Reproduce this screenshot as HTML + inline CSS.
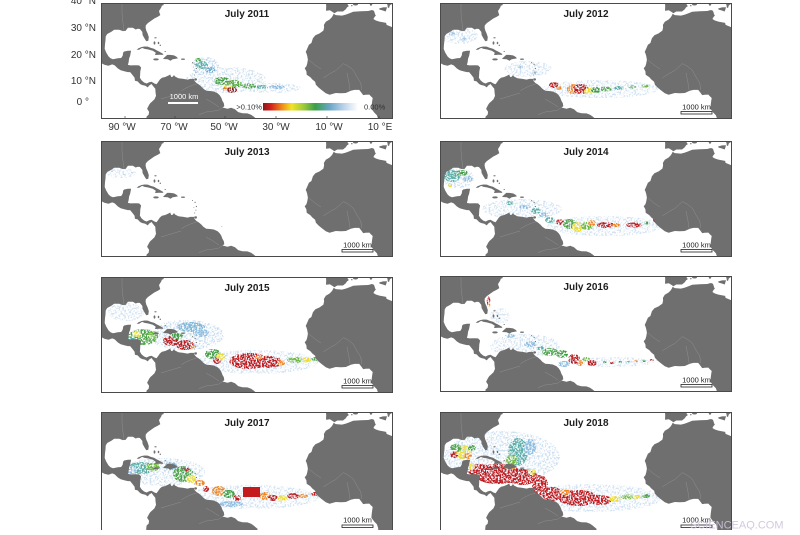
<!DOCTYPE html>
<html>
<head>
<meta charset="utf-8">
<style>
html,body{margin:0;padding:0;background:#fff;}
body{width:800px;height:530px;overflow:hidden;}
svg text{font-family:"Liberation Sans",Arial,sans-serif;}
</style>
</head>
<body>
<svg xmlns="http://www.w3.org/2000/svg" width="800" height="530" viewBox="0 0 800 530">
<defs>
<filter id="sp" x="-10%" y="-10%" width="120%" height="120%" color-interpolation-filters="sRGB">
<feTurbulence type="fractalNoise" baseFrequency="0.6" numOctaves="2" seed="4" result="n"/>
<feColorMatrix in="n" type="matrix" values="0 0 0 0 0  0 0 0 0 0  0 0 0 0 0  8 0 0 0 -3.3" result="m"/>
<feComposite in="SourceGraphic" in2="m" operator="in"/>
</filter>
<filter id="sph" x="-10%" y="-10%" width="120%" height="120%" color-interpolation-filters="sRGB">
<feTurbulence type="fractalNoise" baseFrequency="0.55" numOctaves="2" seed="9" result="n"/>
<feColorMatrix in="n" type="matrix" values="0 0 0 0 0  0 0 0 0 0  0 0 0 0 0  7 0 0 0 -3.4" result="m"/>
<feComposite in="SourceGraphic" in2="m" operator="in"/>
</filter>
<linearGradient id="cb" x1="0" y1="0" x2="1" y2="0">
<stop offset="0" stop-color="#8e1619"/>
<stop offset="0.08" stop-color="#d2201e"/>
<stop offset="0.2" stop-color="#f08a1a"/>
<stop offset="0.3" stop-color="#f2e324"/>
<stop offset="0.43" stop-color="#9cc93a"/>
<stop offset="0.55" stop-color="#3a9e48"/>
<stop offset="0.7" stop-color="#6aa6c8"/>
<stop offset="0.85" stop-color="#bcd3ea"/>
<stop offset="1" stop-color="#ffffff"/>
</linearGradient>
<g id="land">
<g fill="#6f6f6f">
<path d="M-2,-2 L63.5,-2 L63,0 L62.5,2.1 L60.8,2.8 L60.3,4.4 L59,6.5 L58,8 L58.5,9.8 L59.3,12.1 L56.8,13.7 L53.3,15.5 L50.5,17.5 L46.8,20.1 L44.8,22.4 L44.6,24.8 L45.3,27.6 L46.6,30.4 L47.8,34.1 L47.3,37.7 L45.3,38.2 L43.6,35.6 L41.6,32 L41.3,28.9 L38.9,26 L36.9,25.8 L34.6,26.5 L31.9,24.8 L26.9,24.8 L24.6,27.9 L21.9,28.1 L18.2,26.8 L13.2,26.8 L10.2,28.9 L6.2,31 L4.7,33.5 L4.5,37.4 L4,41.3 L3.7,45.9 L5.2,49.5 L7.5,53.4 L9.5,55.2 L12,56.2 L16.9,55.2 L20.2,55 L21.7,52.6 L22.2,49.5 L23.2,48.5 L26.9,47.7 L30.1,47.7 L29.6,50.3 L29.1,52.9 L28.1,55.5 L27.6,59.3 L26.9,61.9 L29.4,62.4 L34.4,62.2 L38.1,62.4 L40.1,64.5 L39.3,68.4 L39.1,72.2 L38.9,74.8 L40.6,77.4 L43.1,79.5 L45.6,80.5 L48.1,79.2 L50.5,78.7 L53.5,80.5 L55.5,81.3 L56.8,79.5 L59,76.4 L61,74.8 L64.2,74 L67.5,72.5 L69.2,71.5 L70.2,74 L71.7,73.8 L73,72 L74,73.5 L77.4,75.3 L82.4,75.9 L86.7,76.6 L89.2,75.9 L92.9,75.9 L93.4,77.7 L95.4,80 L97.9,81.5 L100.4,83.6 L102.3,85.7 L105.3,87.7 L109.1,88 L112.8,88.5 L116.6,90.3 L118.8,92.4 L120.3,94.7 L121.5,98 L122.8,100.1 L123.3,103.2 L121.5,104.5 L126.5,105.8 L130.2,104.7 L134,106.3 L137.2,109.1 L141.4,110.2 L146.4,110.4 L150.1,111.7 L152.6,113.5 L155.1,115.6 L156.4,116.6 L157,122 L45,122 L45.3,116.1 L45.6,113.5 L47.6,111.7 L48.1,108.9 L46.1,105.8 L48.1,101.9 L49.3,100.1 L51,98.6 L53.5,96.2 L55,92.9 L54.5,89 L54.3,85.7 L52.5,83.6 L50.5,81 L48.1,82.6 L46.8,84.4 L44.3,82.8 L41.1,82 L39.1,81 L36.6,78.4 L33.9,77.7 L33.6,74.8 L31.1,71.5 L29.1,69.1 L26.9,69.1 L23.7,68.4 L19.7,67.3 L16.9,65.5 L13.7,62.4 L11.2,61.4 L7.5,62.7 L3.7,61.9 L0.7,60.4 L-1.7,59.3 L-2,59.3 Z"/>
<path d="M35.7,46.8 L37.3,45.4 L40.6,44 L43.6,43.5 L46.8,43.6 L49.8,44.9 L53,45.7 L55.5,47.2 L58.5,48.8 L62.5,51.1 L61.7,51.9 L58.8,51.7 L54,52 L54.8,49.8 L51.8,47.7 L46.8,46.4 L43.6,45.9 L41.1,44.9 L38.1,46.7 Z"/>
<path d="M62.3,55.5 L66.2,51.9 L69.2,51.9 L73,52.4 L75.5,53.7 L77,55.2 L75,55.7 L71.7,56.2 L69.5,57.8 L66.7,56.2 L62.3,56 Z"/>
<ellipse cx="55" cy="56.4" rx="2.7" ry="1"/>
<ellipse cx="82" cy="56.2" rx="2" ry="0.7"/>
<ellipse cx="53.5" cy="40" rx="0.9" ry="1.6"/>
<ellipse cx="57.5" cy="40" rx="0.8" ry="1.2"/>
<ellipse cx="59.3" cy="42.3" rx="0.7" ry="0.7"/>
<ellipse cx="54.5" cy="34.8" rx="1.2" ry="0.6"/>
<ellipse cx="64.2" cy="48.5" rx="0.7" ry="0.5"/>
<ellipse cx="94.6" cy="76.4" rx="1.4" ry="1.2"/>
<circle cx="94.1" cy="61.4" r="0.6"/>
<circle cx="95.4" cy="65.5" r="0.6"/>
<circle cx="94.9" cy="69.1" r="0.5"/>
<circle cx="93.7" cy="72" r="0.5"/>
<circle cx="91.5" cy="59.5" r="0.5"/>
<path d="M232.6,10.8 L234.8,12.1 L241,12.6 L244.8,11.6 L248.5,10.3 L252.2,8.8 L259.7,8.3 L267.2,8 L270.9,7 L272.9,7.7 L273.4,9 L274.2,11.6 L274.9,12.4 L273.4,14.2 L272.4,16 L274.9,17.5 L278.4,18.6 L285.1,19.9 L285.6,21.9 L292.1,24.5 L295,24.5 L295,122 L277.2,122 L277.2,116.1 L275.9,112.2 L273.4,109.7 L270.4,105.8 L270.7,101.9 L271.2,98 L271.7,95 L269.7,93.1 L268.4,91.6 L264.7,91.8 L262.2,92.1 L259.7,88.8 L258.2,86.9 L253.5,86.9 L249.8,87.7 L244.8,90 L239.8,90.3 L234.8,90 L228.6,91.8 L224.8,90.3 L220.4,86.9 L217.4,84.4 L214.9,81.8 L214.1,78.7 L211.2,76.4 L209.4,74.3 L205.7,71.7 L205.4,68.4 L203.7,65.3 L205.4,63.2 L206.2,60.6 L206.9,56.8 L206.2,52.9 L205.4,50.3 L204.7,49 L206.4,45.2 L207.9,41.8 L210.4,40 L211.9,35.3 L214.4,32.3 L218.6,30.4 L222.4,27.6 L223.1,24.5 L222.9,21.9 L224.8,18.8 L228.6,16.5 L230.8,14.2 L232.1,12.1 Z"/>
<path d="M225,-2 L225,0 L225.2,3.4 L225,7.7 L227.3,7.5 L228.8,7.2 L231.6,9 L233.4,10.3 L236.3,8.5 L242,8.5 L244.8,6.2 L246,4.4 L247.8,3.1 L246.5,1.3 L247.3,0 L247.5,-2 Z"/>
<ellipse cx="254.5" cy="1.3" rx="2.5" ry="1.2"/>
<ellipse cx="250.8" cy="2.7" rx="0.8" ry="0.6"/>
<path d="M268.3,-2 L268.6,1 L269.5,2.9 L271,2.3 L271.8,-2 Z"/>
<path d="M278.1,5.5 L282,4.4 L286,4.2 L285.2,7 L284.7,8.5 L281.5,7.4 L278.6,6.6 Z"/>
<path d="M285,-2 L285.5,0 L286.5,2 L286.8,4.5 L288,5 L288.8,2.5 L290,1.5 L294,0 L294,-2 Z"/>
</g>
<g fill="none" stroke="#8f8f8f" stroke-width="0.5">
<path d="M80.4,87.7 L86,84.5 L90.4,82.6 L95.4,81"/>
<path d="M97.9,111.7 L105,109 L110.3,108.4 L117.8,107.1 L121.5,104.5"/>
<path d="M60,96 L70,93 L80,90"/>
<path d="M105,96 L112,100 L118,104"/>
<path d="M222.4,74.8 L230,70 L234.8,67.5 L242.3,60.6 L247,63 L252.2,67 L256,74 L259.7,80 L260.8,87"/>
<path d="M208,57 L214,62 L220,66"/>
<path d="M246,70 L248,80 L249,87"/>
<path d="M23,28 L22,20 L21,10 L21,0"/>
</g>
</g>
</defs>

<!-- ============ 2011 ============ -->
<svg x="101" y="3" width="292" height="116" viewBox="0 0 292 116">
<rect width="292" height="116" fill="#fff"/>
<g filter="url(#sph)">
<ellipse cx="125" cy="77" rx="40" ry="13" fill="#cfe0f1"/>
<ellipse cx="170" cy="85" rx="30" ry="5" fill="#cfe0f1"/>
<ellipse cx="104" cy="63" rx="14" ry="9" fill="#b9d3ec"/>
</g>
<g filter="url(#sp)">
<ellipse cx="101" cy="62" rx="6" ry="4" fill="#5aaea6"/>
<ellipse cx="109" cy="67" rx="5" ry="3" fill="#6aa9c9"/>
<ellipse cx="97" cy="57" rx="3" ry="2" fill="#3f9b3f"/>
<ellipse cx="121" cy="78" rx="8" ry="4" fill="#3f9b3f"/>
<ellipse cx="132" cy="81" rx="9" ry="4" fill="#56a83c"/>
<ellipse cx="127" cy="84" rx="4" ry="2" fill="#eddc2a"/>
<ellipse cx="131" cy="87" rx="5" ry="3" fill="#8a1a1a"/>
<ellipse cx="124" cy="86" rx="2.5" ry="2" fill="#ef8420"/>
<ellipse cx="148" cy="83" rx="8" ry="2.5" fill="#4fa34a"/>
<ellipse cx="161" cy="84" rx="6" ry="2" fill="#5aaea6"/>
<ellipse cx="176" cy="84" rx="8" ry="2" fill="#8fbde0"/>
</g>
<use href="#land"/>
<text x="83" y="96" font-size="7.5" fill="#fff" text-anchor="middle">1000 km</text>
<rect x="67" y="99" width="30" height="2" fill="#fff"/>
<rect x="162" y="100" width="95" height="7.5" fill="url(#cb)"/>
<g stroke="#333" stroke-width="0.6">
<line x1="24" y1="116" x2="24" y2="113"/>
<line x1="74" y1="116" x2="74" y2="113"/>
<line x1="124" y1="116" x2="124" y2="113"/>
<line x1="175" y1="116" x2="175" y2="113"/>
<line x1="226" y1="116" x2="226" y2="113"/>
<line x1="278" y1="116" x2="278" y2="113"/>
</g>
</svg>
<rect x="101.5" y="3.5" width="291" height="115" fill="none" stroke="#4a4a4a" stroke-width="1"/>
<text x="247" y="17" font-size="10" font-weight="bold" fill="#1e1e1e" text-anchor="middle">July 2011</text>
<text x="262" y="109.5" font-size="7.5" fill="#333" text-anchor="end">&gt;0.10%</text>
<text x="364" y="109.5" font-size="7.5" fill="#333">0.00%</text>
<g font-size="10" fill="#333" text-anchor="end">
<text x="96" y="4">40 °N</text>
<text x="96" y="31">30 °N</text>
<text x="96" y="58">20 °N</text>
<text x="96" y="84">10 °N</text>
<text x="89" y="105">0 °</text>
</g>
<g font-size="10" fill="#333" text-anchor="middle">
<text x="122" y="130">90 °W</text>
<text x="174" y="130">70 °W</text>
<text x="224" y="130">50 °W</text>
<text x="276" y="130">30 °W</text>
<text x="329" y="130">10 °W</text>
<text x="380" y="130">10 °E</text>
</g>

<!-- ============ 2012 ============ -->
<svg x="440" y="3" width="292" height="116" viewBox="0 0 292 116">
<rect width="292" height="116" fill="#fff"/>
<g filter="url(#sph)">
<ellipse cx="20" cy="33" rx="18" ry="8" fill="#d2e2f2"/>
<ellipse cx="88" cy="66" rx="24" ry="8" fill="#d2e2f2"/>
<ellipse cx="160" cy="86" rx="58" ry="9" fill="#d2e2f2"/>
</g>
<g filter="url(#sp)">
<ellipse cx="12" cy="31" rx="3" ry="2" fill="#9cc4e4"/>
<ellipse cx="24" cy="36" rx="3" ry="1.5" fill="#9cc4e4"/>
<ellipse cx="80" cy="64" rx="3" ry="1.5" fill="#9cc4e4"/>
<ellipse cx="95" cy="70" rx="3" ry="1.5" fill="#9cc4e4"/>
<ellipse cx="114" cy="82" rx="5" ry="3" fill="#b81c1f"/>
<ellipse cx="119" cy="85" rx="3" ry="2" fill="#ef8420"/>
<ellipse cx="133" cy="86" rx="6" ry="5" fill="#ef8420"/>
<ellipse cx="141" cy="86" rx="8" ry="5" fill="#b81c1f"/>
<ellipse cx="149" cy="88" rx="5" ry="3" fill="#eddc2a"/>
<ellipse cx="156" cy="87" rx="5" ry="3" fill="#3f9b3f"/>
<ellipse cx="166" cy="86" rx="6" ry="2.5" fill="#5aa54a"/>
<ellipse cx="179" cy="85" rx="5" ry="2" fill="#5aaea6"/>
<ellipse cx="192" cy="84" rx="4" ry="1.5" fill="#3f9b3f"/>
<ellipse cx="205" cy="83" rx="4" ry="1.5" fill="#6cb83b"/>
<ellipse cx="218" cy="82" rx="3" ry="1" fill="#8fbde0"/>
</g>
<use href="#land"/>
<text x="256.5" y="106.5" font-size="7.5" fill="#222" text-anchor="middle">1000 km</text>
<rect x="241" y="108.5" width="31" height="2.5" fill="#fff" stroke="#222" stroke-width=".8"/>
</svg>
<rect x="440.5" y="3.5" width="291" height="115" fill="none" stroke="#4a4a4a" stroke-width="1"/>
<text x="586" y="17" font-size="10" font-weight="bold" fill="#1e1e1e" text-anchor="middle">July 2012</text>

<!-- ============ 2013 ============ -->
<svg x="101" y="141" width="292" height="116" viewBox="0 0 292 116">
<rect width="292" height="116" fill="#fff"/>
<g filter="url(#sph)">
<ellipse cx="20" cy="32" rx="15" ry="5" fill="#dbe7f4"/>
</g>
<g fill="#c3d8ec">
<rect x="10" y="30" width="2" height="1"/>
<rect x="22" y="33" width="2" height="1"/>
<rect x="30" y="31" width="1.5" height="1"/>
<rect x="120" y="85" width="1.5" height="1"/>
<rect x="92" y="66" width="1.5" height="1"/>
</g>
<use href="#land"/>
<text x="256.5" y="106.5" font-size="7.5" fill="#222" text-anchor="middle">1000 km</text>
<rect x="241" y="108.5" width="31" height="2.5" fill="#fff" stroke="#222" stroke-width=".8"/>
</svg>
<rect x="101.5" y="141.5" width="291" height="115" fill="none" stroke="#4a4a4a" stroke-width="1"/>
<text x="247" y="155" font-size="10" font-weight="bold" fill="#1e1e1e" text-anchor="middle">July 2013</text>

<!-- ============ 2014 ============ -->
<svg x="440" y="141" width="292" height="116" viewBox="0 0 292 116">
<rect width="292" height="116" fill="#fff"/>
<g filter="url(#sph)">
<ellipse cx="18" cy="37" rx="16" ry="10" fill="#cde0f1"/>
<ellipse cx="82" cy="68" rx="40" ry="10" fill="#d2e2f2"/>
<ellipse cx="165" cy="85" rx="58" ry="10" fill="#d2e2f2"/>
</g>
<g filter="url(#sp)">
<ellipse cx="12" cy="35" rx="8" ry="6" fill="#5aaea6"/>
<ellipse cx="22" cy="32" rx="6" ry="3" fill="#3f9b3f"/>
<ellipse cx="28" cy="38" rx="5" ry="3" fill="#8fbde0"/>
<ellipse cx="10" cy="44" rx="2" ry="2" fill="#eddc2a"/>
<ellipse cx="70" cy="62" rx="4" ry="2" fill="#5aaea6"/>
<ellipse cx="85" cy="66" rx="6" ry="2" fill="#8fbde0"/>
<ellipse cx="96" cy="70" rx="5" ry="3" fill="#5aaea6"/>
<ellipse cx="104" cy="74" rx="5" ry="2.5" fill="#8fbde0"/>
<ellipse cx="110" cy="79" rx="5" ry="3" fill="#5aaea6"/>
<ellipse cx="120" cy="81" rx="4" ry="3" fill="#b81c1f"/>
<ellipse cx="130" cy="83" rx="7" ry="5" fill="#4fa34a"/>
<ellipse cx="138" cy="86" rx="6" ry="5" fill="#eddc2a"/>
<ellipse cx="147" cy="85" rx="6" ry="4" fill="#6cb83b"/>
<ellipse cx="152" cy="82" rx="4" ry="3" fill="#ef8420"/>
<ellipse cx="166" cy="84" rx="9" ry="3" fill="#b81c1f"/>
<ellipse cx="176" cy="84" rx="4" ry="2" fill="#ef8420"/>
<ellipse cx="194" cy="84" rx="8" ry="2.5" fill="#b81c1f"/>
<ellipse cx="207" cy="82" rx="3" ry="1.5" fill="#3f9b3f"/>
<ellipse cx="216" cy="79" rx="3" ry="2.5" fill="#b81c1f"/>
<ellipse cx="219" cy="81" rx="2" ry="1.5" fill="#ef8420"/>
</g>
<use href="#land"/>
<text x="256.5" y="106.5" font-size="7.5" fill="#222" text-anchor="middle">1000 km</text>
<rect x="241" y="108.5" width="31" height="2.5" fill="#fff" stroke="#222" stroke-width=".8"/>
</svg>
<rect x="440.5" y="141.5" width="291" height="115" fill="none" stroke="#4a4a4a" stroke-width="1"/>
<text x="586" y="155" font-size="10" font-weight="bold" fill="#1e1e1e" text-anchor="middle">July 2014</text>

<!-- ============ 2015 ============ -->
<svg x="101" y="277" width="292" height="116" viewBox="0 0 292 116">
<rect width="292" height="116" fill="#fff"/>
<g filter="url(#sph)">
<ellipse cx="25" cy="35" rx="18" ry="9" fill="#d2e2f2"/>
<ellipse cx="85" cy="58" rx="38" ry="15" fill="#c8dcf0"/>
<ellipse cx="155" cy="85" rx="62" ry="12" fill="#d2e2f2"/>
</g>
<g filter="url(#sp)">
<ellipse cx="42" cy="60" rx="15" ry="8" fill="#4fa34a"/>
<ellipse cx="36" cy="57" rx="4" ry="3" fill="#eddc2a"/>
<ellipse cx="30" cy="64" rx="5" ry="4" fill="#5aaea6"/>
<ellipse cx="52" cy="58" rx="5" ry="4" fill="#6cb83b"/>
<ellipse cx="70" cy="64" rx="8" ry="5" fill="#b81c1f"/>
<ellipse cx="84" cy="68" rx="9" ry="5" fill="#b81c1f"/>
<ellipse cx="76" cy="59" rx="6" ry="3" fill="#3f9b3f"/>
<ellipse cx="92" cy="70" rx="3" ry="2" fill="#ef8420"/>
<ellipse cx="90" cy="50" rx="14" ry="5" fill="#7fb6d6"/>
<ellipse cx="100" cy="56" rx="8" ry="4" fill="#8fbde0"/>
<ellipse cx="112" cy="77" rx="8" ry="5" fill="#3f9b3f"/>
<ellipse cx="120" cy="80" rx="5" ry="4" fill="#eddc2a"/>
<ellipse cx="116" cy="84" rx="4" ry="3" fill="#b81c1f"/>
<ellipse cx="148" cy="84" rx="20" ry="8" fill="#c01a1e"/>
<ellipse cx="168" cy="85" rx="13" ry="6" fill="#c01a1e"/>
<ellipse cx="158" cy="80" rx="4" ry="2" fill="#ef8420"/>
<ellipse cx="180" cy="86" rx="4" ry="3" fill="#ef8420"/>
<ellipse cx="194" cy="83" rx="8" ry="3" fill="#6cb83b"/>
<ellipse cx="205" cy="83" rx="5" ry="2.5" fill="#eddc2a"/>
<ellipse cx="215" cy="82" rx="5" ry="2" fill="#4fa34a"/>
</g>
<use href="#land"/>
<text x="256.5" y="106.5" font-size="7.5" fill="#222" text-anchor="middle">1000 km</text>
<rect x="241" y="108.5" width="31" height="2.5" fill="#fff" stroke="#222" stroke-width=".8"/>
</svg>
<rect x="101.5" y="277.5" width="291" height="115" fill="none" stroke="#4a4a4a" stroke-width="1"/>
<text x="247" y="291" font-size="10" font-weight="bold" fill="#1e1e1e" text-anchor="middle">July 2015</text>

<!-- ============ 2016 ============ -->
<svg x="440" y="276" width="292" height="116" viewBox="0 0 292 116">
<rect width="292" height="116" fill="#fff"/>
<g filter="url(#sph)">
<ellipse cx="85" cy="70" rx="35" ry="12" fill="#d2e2f2"/>
<ellipse cx="170" cy="86" rx="45" ry="5" fill="#d2e2f2"/>
<ellipse cx="60" cy="40" rx="10" ry="8" fill="#dbe7f4"/>
</g>
<g filter="url(#sp)">
<ellipse cx="48.5" cy="25" rx="1.8" ry="4.5" fill="#c01a1e"/>
<ellipse cx="49" cy="29" rx="1.2" ry="2" fill="#ef8420"/>
<ellipse cx="70" cy="60" rx="5" ry="2" fill="#8fbde0"/>
<ellipse cx="90" cy="68" rx="6" ry="3" fill="#8fbde0"/>
<ellipse cx="100" cy="72" rx="4" ry="2" fill="#5aaea6"/>
<ellipse cx="110" cy="76" rx="8" ry="4" fill="#4fa34a"/>
<ellipse cx="122" cy="78" rx="6" ry="4" fill="#3f9b3f"/>
<ellipse cx="134" cy="83" rx="6" ry="5" fill="#b81c1f"/>
<ellipse cx="140" cy="87" rx="3" ry="3" fill="#ef8420"/>
<ellipse cx="146" cy="83" rx="4" ry="2" fill="#6cb83b"/>
<ellipse cx="152" cy="87" rx="5" ry="3" fill="#b81c1f"/>
<ellipse cx="124" cy="88" rx="6" ry="3" fill="#8fbde0"/>
<ellipse cx="165" cy="86" rx="2" ry="1" fill="#3f9b3f"/>
<ellipse cx="172" cy="87" rx="2" ry="1" fill="#b81c1f"/>
<ellipse cx="180" cy="86" rx="2" ry="1" fill="#3f9b3f"/>
<ellipse cx="188" cy="86" rx="2" ry="1" fill="#5aaea6"/>
<ellipse cx="196" cy="85" rx="2" ry="1" fill="#ef8420"/>
<ellipse cx="204" cy="85" rx="2" ry="1" fill="#3f9b3f"/>
<ellipse cx="212" cy="84" rx="2" ry="1" fill="#b81c1f"/>
<ellipse cx="218" cy="84" rx="2" ry="1" fill="#8fbde0"/>
</g>
<use href="#land"/>
<text x="256.5" y="106.5" font-size="7.5" fill="#222" text-anchor="middle">1000 km</text>
<rect x="241" y="108.5" width="31" height="2.5" fill="#fff" stroke="#222" stroke-width=".8"/>
</svg>
<rect x="440.5" y="276.5" width="291" height="115" fill="none" stroke="#4a4a4a" stroke-width="1"/>
<text x="586" y="290" font-size="10" font-weight="bold" fill="#1e1e1e" text-anchor="middle">July 2016</text>

<!-- ============ 2017 ============ -->
<svg x="101" y="412" width="292" height="120" viewBox="0 0 292 120">
<rect width="292" height="120" fill="#fff"/>
<g filter="url(#sph)">
<ellipse cx="62" cy="60" rx="42" ry="14" fill="#cde0f1"/>
<ellipse cx="150" cy="85" rx="68" ry="12" fill="#d2e2f2"/>
</g>
<g filter="url(#sp)">
<ellipse cx="40" cy="56" rx="14" ry="6" fill="#5aaea6"/>
<ellipse cx="52" cy="55" rx="7" ry="4" fill="#6cb83b"/>
<ellipse cx="30" cy="58" rx="6" ry="4" fill="#8fbde0"/>
<ellipse cx="82" cy="62" rx="10" ry="8" fill="#4fa34a"/>
<ellipse cx="90" cy="67" rx="5" ry="4" fill="#eddc2a"/>
<ellipse cx="86" cy="57" rx="2.5" ry="2" fill="#b81c1f"/>
<ellipse cx="70" cy="54" rx="6" ry="4" fill="#7fb6d6"/>
<ellipse cx="99" cy="71" rx="5" ry="3" fill="#ef8420"/>
<ellipse cx="105" cy="77" rx="3" ry="3" fill="#b81c1f"/>
<ellipse cx="118" cy="79" rx="7" ry="5" fill="#ef8420"/>
<ellipse cx="128" cy="82" rx="6" ry="4" fill="#3f9b3f"/>
<ellipse cx="136" cy="86" rx="4" ry="3" fill="#b81c1f"/>
<ellipse cx="164" cy="84" rx="6" ry="4" fill="#ef8420"/>
<ellipse cx="172" cy="86" rx="5" ry="3" fill="#b81c1f"/>
<ellipse cx="181" cy="86" rx="5" ry="3" fill="#eddc2a"/>
<ellipse cx="192" cy="84" rx="6" ry="3" fill="#b81c1f"/>
<ellipse cx="202" cy="84" rx="5" ry="2" fill="#ef8420"/>
<ellipse cx="214" cy="82" rx="4" ry="2" fill="#b81c1f"/>
<ellipse cx="130" cy="92" rx="12" ry="3" fill="#8fbde0"/>
</g>
<rect x="142" y="75" width="17" height="10" fill="#c4191d"/>
<use href="#land"/>
<text x="256.5" y="110.5" font-size="7.5" fill="#222" text-anchor="middle">1000 km</text>
<rect x="241" y="113" width="31" height="2.5" fill="#fff" stroke="#222" stroke-width=".8"/>
</svg>
<rect x="101.5" y="412.5" width="291" height="119" fill="none" stroke="#4a4a4a" stroke-width="1"/>
<text x="247" y="426" font-size="10" font-weight="bold" fill="#1e1e1e" text-anchor="middle">July 2017</text>

<!-- ============ 2018 ============ -->
<svg x="440" y="412" width="292" height="120" viewBox="0 0 292 120">
<rect width="292" height="120" fill="#fff"/>
<g filter="url(#sph)">
<ellipse cx="62" cy="45" rx="58" ry="26" fill="#cde0f1"/>
<ellipse cx="150" cy="86" rx="72" ry="14" fill="#d2e2f2"/>
</g>
<g filter="url(#sp)">
<ellipse cx="78" cy="40" rx="10" ry="14" fill="#5aaea6"/>
<ellipse cx="72" cy="48" rx="6" ry="5" fill="#6cb83b"/>
<ellipse cx="90" cy="35" rx="6" ry="8" fill="#8fbde0"/>
<ellipse cx="22" cy="40" rx="10" ry="7" fill="#eddc2a"/>
<ellipse cx="16" cy="36" rx="6" ry="4" fill="#4fa34a"/>
<ellipse cx="14" cy="43" rx="4" ry="3" fill="#b81c1f"/>
<ellipse cx="28" cy="44" rx="4" ry="3" fill="#ef8420"/>
<ellipse cx="32" cy="36" rx="4" ry="3" fill="#3f9b3f"/>
<ellipse cx="40" cy="58" rx="13" ry="6" fill="#c01a1e"/>
<ellipse cx="58" cy="62" rx="24" ry="10" fill="#c01a1e"/>
<ellipse cx="82" cy="65" rx="16" ry="8" fill="#c01a1e"/>
<ellipse cx="100" cy="73" rx="8" ry="10" fill="#c01a1e"/>
<ellipse cx="112" cy="82" rx="10" ry="7" fill="#c01a1e"/>
<ellipse cx="138" cy="86" rx="20" ry="8" fill="#c01a1e"/>
<ellipse cx="160" cy="88" rx="12" ry="5" fill="#c01a1e"/>
<ellipse cx="30" cy="55" rx="5" ry="3" fill="#eddc2a"/>
<ellipse cx="70" cy="55" rx="6" ry="3" fill="#ef8420"/>
<ellipse cx="92" cy="60" rx="4" ry="3" fill="#eddc2a"/>
<ellipse cx="125" cy="80" rx="5" ry="3" fill="#ef8420"/>
<ellipse cx="175" cy="87" rx="6" ry="3" fill="#eddc2a"/>
<ellipse cx="188" cy="85" rx="7" ry="2.5" fill="#6cb83b"/>
<ellipse cx="198" cy="85" rx="5" ry="2" fill="#eddc2a"/>
<ellipse cx="206" cy="84" rx="4" ry="2" fill="#4fa34a"/>
</g>
<use href="#land"/>
<text x="256.5" y="110.5" font-size="7.5" fill="#222" text-anchor="middle">1000 km</text>
<rect x="241" y="113" width="31" height="2.5" fill="#fff" stroke="#222" stroke-width=".8"/>
</svg>
<rect x="440.5" y="412.5" width="291" height="119" fill="none" stroke="#4a4a4a" stroke-width="1"/>
<text x="586" y="426" font-size="10" font-weight="bold" fill="#1e1e1e" text-anchor="middle">July 2018</text>

<text x="690" y="528.5" font-size="11" fill="#cdc4dc" opacity=".9">SCIENCEAQ.COM</text>
</svg>
</body>
</html>
